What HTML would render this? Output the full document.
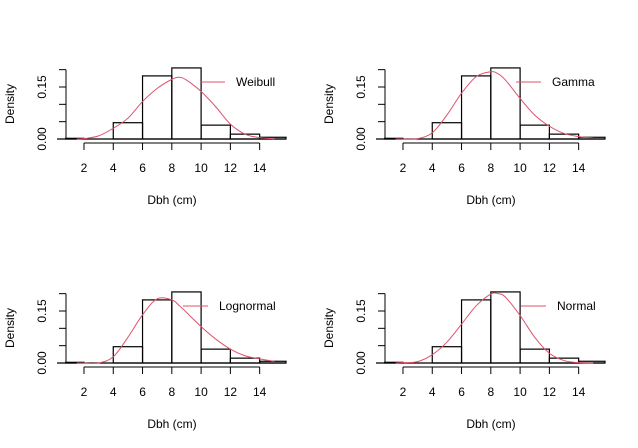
<!DOCTYPE html>
<html><head><meta charset="utf-8"><style>
body{margin:0;background:#fff;}
svg{display:block;font-family:"Liberation Sans",Arial,sans-serif;}
</style></head><body>
<svg id="c" width="638" height="448" viewBox="0 0 638 448" xmlns="http://www.w3.org/2000/svg"></svg>
<script>
const breaks=[0.75,2,4,6,8,10,12,14,15.8];
const densities=[0.002,0,0.047,0.182,0.205,0.04,0.014,0.005];
const xTicks=[2,4,6,8,10,12,14];
const yTicks=[0,0.05,0.10,0.15,0.20];
const yTickLabels=["0.00","","","0.15",""];
const curveX=[1.5,2,3,4,5,6,7,8,8.5,9,10,11,12,13,14,15];
const weibullY=[0,0.001,0.009,0.031,0.06,0.108,0.146,0.172,0.178,0.17,0.137,0.093,0.043,0.014,0.004,0.0005];
const gammaY=[0,0,0.001,0.018,0.069,0.132,0.18,0.194,0.188,0.17,0.117,0.069,0.037,0.016,0.007,0.003];
const lognormalY=[0,0,0,0.018,0.074,0.139,0.185,0.182,0.166,0.146,0.105,0.069,0.04,0.021,0.012,0.005];
const normalY=[0,0.001,0.004,0.024,0.06,0.112,0.165,0.199,0.2,0.19,0.137,0.074,0.028,0.007,0.001,0];
const panelNames=["Weibull","Gamma","Lognormal","Normal"];
const panelCurves=[weibullY,gammaY,lognormalY,normalY];
const panelOffsets=[[0,0],[319,0],[0,224],[319,224]];
const legendPos=[[200,236],[516,552],[183,219],[521,557]];
const NS="http://www.w3.org/2000/svg";
const svg=document.getElementById('c');
function mk(tag,attrs,parent){const e=document.createElementNS(NS,tag);for(const k in attrs)e.setAttribute(k,attrs[k]);(parent||svg).appendChild(e);return e;}
const xs=v=>54.7+14.64*v;
const ys=d=>139-346.7*d;
function smoothPath(P){
  let d='M'+P[0][0]+','+P[0][1];
  for(let i=0;i<P.length-1;i++){
    const p0=P[Math.max(0,i-1)],p1=P[i],p2=P[i+1],p3=P[Math.min(P.length-1,i+2)];
    const c1x=p1[0]+(p2[0]-p0[0])/6,c1y=p1[1]+(p2[1]-p0[1])/6;
    const c2x=p2[0]-(p3[0]-p1[0])/6,c2y=p2[1]-(p3[1]-p1[1])/6;
    d+=` C${c1x},${c1y} ${c2x},${c2y} ${p2[0]},${p2[1]}`;
  }
  return d;
}
panelNames.forEach((name,p)=>{
  const [ox,oy]=panelOffsets[p];
  const g=mk('g',{transform:`translate(${ox},${oy})`});
  
  
  for(let i=0;i<densities.length;i++){
    const x0=xs(breaks[i]),x1=xs(breaks[i+1]),y=ys(densities[i]);
    const r=mk('rect',{x:x0,y:y,width:x1-x0,height:139-y,fill:'none',stroke:'#000','stroke-width':1.2},g);
    
    
  }
  const base=mk('line',{x1:57,x2:286,y1:139,y2:139,stroke:'#000','stroke-width':1.2},g);
  
  
  const pts=curveX.map((x,i)=>[xs(x),ys(panelCurves[p][i])]);
  const c=mk('path',{d:smoothPath(pts),fill:'none',stroke:'#DF536B','stroke-width':1},g);
  
  
  const ya=mk('g',{},g);
  
  
  mk('line',{x1:66,x2:66,y1:ys(yTicks[0]),y2:ys(yTicks[yTicks.length-1]),stroke:'#000'},ya);
  yTicks.forEach((t,i)=>{
    mk('line',{x1:59,x2:66,y1:ys(t),y2:ys(t),stroke:'#000'},ya);
    if(yTickLabels[i]){const tx=mk('text',{x:0,y:0,'font-size':12,'text-anchor':'middle',transform:`translate(46,${ys(t)}) rotate(-90)`},ya);tx.textContent=yTickLabels[i];}
  });
  const yl=mk('text',{'font-size':12,'text-anchor':'middle',transform:'translate(14,104) rotate(-90)'},g);
  yl.textContent='Density';
  
  
  const xa=mk('g',{},g);
  
  
  mk('line',{x1:xs(xTicks[0]),x2:xs(xTicks[xTicks.length-1]),y1:143,y2:143,stroke:'#000'},xa);
  xTicks.forEach(t=>{
    mk('line',{x1:xs(t),x2:xs(t),y1:143,y2:150,stroke:'#000'},xa);
    const tx=mk('text',{x:xs(t),y:172,'font-size':12,'text-anchor':'middle'},xa);tx.textContent=t;
  });
  const xl=mk('text',{x:172,y:204,'font-size':12,'text-anchor':'middle'},g);
  xl.textContent='Dbh (cm)';
  
  
  const lg=mk('g',{},svg);
  
  
  const [lx,tx]=legendPos[p];
  mk('line',{x1:lx,x2:lx+25,y1:82+oy,y2:82+oy,stroke:'#DF536B'},lg);
  const lt=mk('text',{x:tx,y:86+oy,'font-size':12},lg);lt.textContent=name;
});
</script>
</body></html>
